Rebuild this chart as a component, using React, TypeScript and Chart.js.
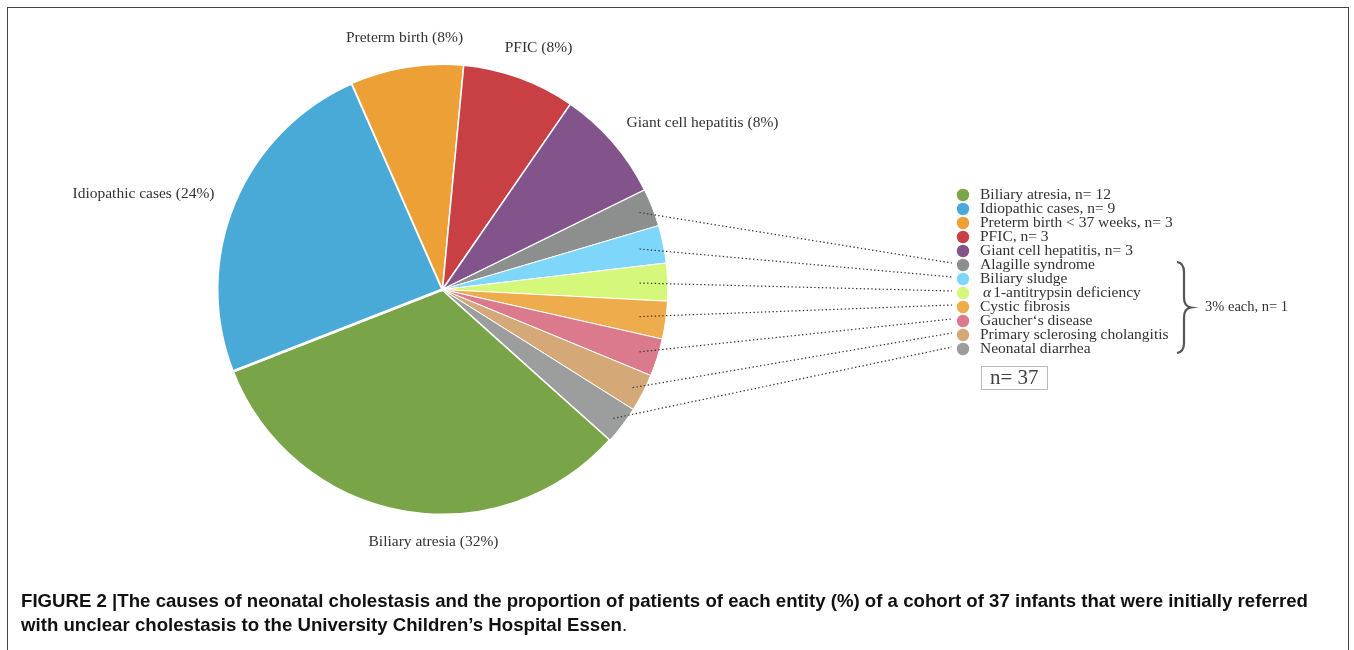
import React, { useEffect, useRef } from "react";
import { Chart, registerables } from "chart.js";

Chart.register(...registerables);

// ---- data ----
const categories = [
  "Biliary atresia",
  "Idiopathic cases",
  "Preterm birth",
  "PFIC",
  "Giant cell hepatitis",
  "Alagille syndrome",
  "Biliary sludge",
  "α 1-antitrypsin deficiency",
  "Cystic fibrosis",
  "Gaucher‘s disease",
  "Primary sclerosing cholangitis",
  "Neonatal diarrhea",
];
const counts = [12, 9, 3, 3, 3, 1, 1, 1, 1, 1, 1, 1];
const legendLabels = [
  "Biliary atresia, n= 12",
  "Idiopathic cases, n= 9",
  "Preterm birth < 37 weeks, n= 3",
  "PFIC, n= 3",
  "Giant cell hepatitis, n= 3",
  "Alagille syndrome",
  "Biliary sludge",
  "α 1-antitrypsin deficiency",
  "Cystic fibrosis",
  "Gaucher‘s disease",
  "Primary sclerosing cholangitis",
  "Neonatal diarrhea",
];
const colors = [
  "#79a548",
  "#4aaad7",
  "#eca036",
  "#c84043",
  "#82548b",
  "#8c8f8e",
  "#7fd6fb",
  "#d5f77a",
  "#eeac4d",
  "#dc7a8d",
  "#d5a878",
  "#9c9e9d",
];
const labelledSlices = [0, 1, 2, 3, 4];
const groupNote = "3% each, n= 1";
const totalNote = "n= 37";
const captionLines = [
  "FIGURE 2 |The causes of neonatal cholestasis and the proportion of patients of each entity (%) of a cohort of 37 infants that were initially referred",
  "with unclear cholestasis to the University Children’s Hospital Essen",
];

const SERIF = "'Liberation Serif', 'Times New Roman', serif";
const SANS = "'Liberation Sans', Arial, sans-serif";

const total = counts.reduce((a, b) => a + b, 0);

// label anchors (relative to pie centre) for the outside labels
const labelAnchors: [number, number][] = [
  [-9, 252],
  [-299, -96],
  [-38, -252],
  [96, -242],
  [260, -167],
];

const extrasPlugin = {
  id: "figureExtras",
  afterDraw(chart: any) {
    const ctx: CanvasRenderingContext2D = chart.ctx;
    const arcs = chart.getDatasetMeta(0).data;
    const a0 = arcs[0].getProps(["x", "y", "outerRadius"], true);
    const cx = a0.x;
    const cy = a0.y;
    const R = a0.outerRadius;

    ctx.save();
    // frame
    ctx.strokeStyle = "#444";
    ctx.lineWidth = 1;
    ctx.strokeRect(7.5, 7.5, 1341, 700);

    // outside labels
    ctx.fillStyle = "#333";
    ctx.font = `15.5px ${SERIF}`;
    ctx.textAlign = "center";
    ctx.textBaseline = "middle";
    labelledSlices.forEach((i, k) => {
      const pct = Math.round((counts[i] / total) * 100);
      const [dx, dy] = labelAnchors[k];
      ctx.fillText(`${categories[i]} (${pct}%)`, cx + dx, cy + dy);
    });

    // legend
    const legX = 963;
    const legTop = 195;
    const gap = 14;
    ctx.textAlign = "left";
    legendLabels.forEach((lab, i) => {
      const y = legTop + i * gap;
      ctx.fillStyle = colors[i];
      ctx.beginPath();
      ctx.arc(legX, y, 6.2, 0, Math.PI * 2);
      ctx.fill();
      ctx.fillStyle = "#333";
      if (lab.startsWith("α")) {
        ctx.font = `italic 15.5px ${SERIF}`;
        ctx.fillText("α", legX + 20, y);
        const w = ctx.measureText("α").width;
        ctx.font = `15.5px ${SERIF}`;
        ctx.fillText(lab.slice(1).trim(), legX + 20 + w + 2, y);
      } else {
        ctx.font = `15.5px ${SERIF}`;
        ctx.fillText(lab, legX + 17, y);
      }
    });

    // leader lines from small slices
    ctx.strokeStyle = "#333";
    ctx.lineWidth = 1.2;
    ctx.setLineDash([1.4, 2.4]);
    for (let i = 5; i < arcs.length; i++) {
      const p = arcs[i].getProps(["startAngle", "endAngle"], true);
      const mid = (p.startAngle + p.endAngle) / 2;
      let r = R * 0.95;
      const c = Math.cos(mid);
      if (c > 0) r = Math.min(r, 197 / c);
      const sx = cx + r * Math.cos(mid);
      const sy = cy + r * Math.sin(mid);
      const ey = legTop + i * gap - 2;
      ctx.beginPath();
      ctx.moveTo(sx, sy);
      ctx.lineTo(952, ey);
      ctx.stroke();
    }
    ctx.setLineDash([]);

    // brace
    const bTop = legTop + 5 * gap - 3;
    const bBot = legTop + 11 * gap + 4;
    const bMid = (bTop + bBot) / 2;
    const bx = 1184;
    ctx.strokeStyle = "#555";
    ctx.lineWidth = 2.2;
    ctx.beginPath();
    ctx.moveTo(bx - 7, bTop);
    ctx.quadraticCurveTo(bx, bTop + 1, bx, bTop + 10);
    ctx.lineTo(bx, bMid - 10);
    ctx.quadraticCurveTo(bx, bMid - 1, bx + 7, bMid);
    ctx.quadraticCurveTo(bx, bMid + 1, bx, bMid + 10);
    ctx.lineTo(bx, bBot - 10);
    ctx.quadraticCurveTo(bx, bBot - 1, bx - 7, bBot);
    ctx.stroke();

    ctx.fillStyle = "#333";
    ctx.font = `14.5px ${SERIF}`;
    ctx.fillText(groupNote, 1205, bMid);

    // n= 37 box
    ctx.strokeStyle = "#bbb";
    ctx.lineWidth = 1;
    ctx.strokeRect(981.5, 366.5, 66, 23);
    ctx.fillStyle = "#444";
    ctx.font = `21px ${SERIF}`;
    ctx.fillText(totalNote, 990, 378.5);

    // caption
    ctx.fillStyle = "#111";
    ctx.font = `bold 19px ${SANS}`;
    ctx.textBaseline = "alphabetic";
    const w1 = ctx.measureText(captionLines[0]).width;
    const sc = 1287 / w1;
    ctx.save();
    ctx.translate(21, 0);
    ctx.scale(sc, 1);
    ctx.fillText(captionLines[0], 0, 607);
    ctx.fillText(captionLines[1], 0, 631);
    const w2 = ctx.measureText(captionLines[1]).width;
    ctx.font = `19px ${SANS}`;
    ctx.fillText(".", w2, 631);
    ctx.restore();

    ctx.restore();
  },
};

export default function App() {
  const ref = useRef<HTMLCanvasElement | null>(null);
  useEffect(() => {
    if (!ref.current) return;
    const chart = new Chart(ref.current, {
      type: "pie",
      data: {
        labels: categories,
        datasets: [
          {
            data: counts,
            backgroundColor: colors,
            borderColor: "#ffffff",
            borderWidth: [2.5, 2.5, 1.5, 1.5, 1.5, 1, 1, 1, 1, 1, 1, 1],
          },
        ],
      },
      options: {
        responsive: false,
        animation: false,
        rotation: 131.9,
        layout: { padding: { left: 216, top: 63, right: 685, bottom: 134 } },
        plugins: {
          legend: { display: false },
          tooltip: { enabled: false },
        },
      },
      plugins: [extrasPlugin],
    });
    return () => chart.destroy();
  }, []);
  return (
    <div style={{ position: "fixed", left: 0, top: 0, width: 1354, height: 650, background: "#fff" }}>
      <canvas ref={ref} width={1354} height={650} style={{ display: "block" }} />
    </div>
  );
}
